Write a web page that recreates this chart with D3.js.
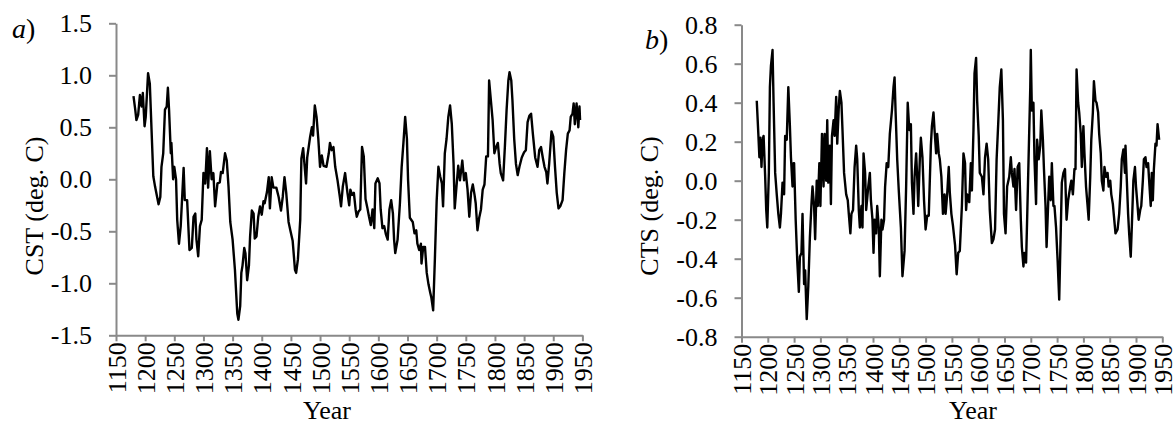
<!DOCTYPE html>
<html>
<head>
<meta charset="utf-8">
<script src="https://cdn.jsdelivr.net/npm/d3@7"></script>
<style>
body{margin:0;background:#fff;}
svg text{font-family:"Liberation Serif","Times New Roman",serif;fill:#000;}
</style>
</head>
<body>
<div id="chart"></div>
<script>
/* data */
var yearTicks=[1150,1200,1250,1300,1350,1400,1450,1500,1550,1600,1650,1700,1750,1800,1850,1900,1950];
var cstTicks=[-1.5,-1.0,-0.5,0.0,0.5,1.0,1.5];
var ctsTicks=[-0.8,-0.6,-0.4,-0.2,0.0,0.2,0.4,0.6,0.8];

var cstYears=[1180,1183,1185,1188,1191,1194,1196,1199,1201,1205,1208,1211,1214,1217,1223,1226,1228,1231,1234,1237,1239,1241,1244,1245,1248,1250,1253,1255,1258,1261,1266,1268,1272,1276,1280,1283,1286,1288,1291,1294,1297,1300,1303,1306,1308,1311,1314,1317,1320,1324,1328,1330,1333,1337,1340,1343,1346,1350,1354,1358,1360,1363,1365,1367,1370,1372,1375,1378,1380,1383,1386,1388,1391,1394,1397,1400,1403,1405,1409,1412,1414,1417,1420,1425,1429,1433,1436,1439,1442,1446,1449,1453,1457,1459,1462,1466,1468,1471,1476,1478,1483,1486,1488,1491,1494,1497,1500,1503,1506,1511,1515,1517,1520,1523,1526,1530,1534,1536,1539,1543,1547,1550,1552,1555,1558,1561,1563,1566,1569,1572,1575,1578,1581,1584,1587,1590,1593,1595,1599,1602,1604,1607,1610,1613,1616,1619,1622,1625,1627,1629,1633,1637,1640,1643,1646,1649,1651,1654,1659,1662,1665,1667,1670,1673,1674,1677,1680,1683,1686,1689,1691,1694,1697,1700,1703,1706,1709,1711,1714,1717,1720,1723,1726,1729,1731,1734,1737,1740,1744,1747,1750,1753,1756,1759,1762,1765,1767,1770,1773,1776,1779,1782,1785,1788,1790,1793,1796,1799,1802,1805,1808,1810,1814,1817,1820,1823,1825,1828,1830,1833,1836,1839,1842,1846,1850,1853,1856,1859,1862,1865,1869,1873,1876,1879,1882,1885,1888,1890,1893,1897,1900,1903,1906,1909,1912,1916,1919,1922,1925,1928,1930,1933,1935,1937,1940,1943,1945,1946];
var cstValues=[0.80,0.67,0.57,0.62,0.81,0.70,0.83,0.51,0.60,1.02,0.92,0.47,0.03,-0.07,-0.24,-0.17,0.12,0.25,0.67,0.70,0.88,0.67,0.25,0.35,0.00,0.12,0.00,-0.39,-0.62,-0.45,0.11,-0.20,-0.20,-0.68,-0.66,-0.36,-0.33,-0.58,-0.74,-0.45,-0.39,0.06,-0.04,0.30,-0.08,0.27,0.00,0.06,-0.26,-0.04,-0.03,0.07,0.06,0.25,0.18,-0.07,-0.41,-0.58,-0.87,-1.29,-1.35,-1.22,-0.90,-0.83,-0.66,-0.71,-0.97,-0.83,-0.55,-0.30,-0.33,-0.57,-0.55,-0.36,-0.26,-0.34,-0.21,-0.23,-0.12,0.02,-0.28,0.02,-0.08,-0.08,-0.17,-0.30,-0.17,0.02,-0.13,-0.41,-0.49,-0.59,-0.87,-0.90,-0.77,-0.39,0.20,0.30,-0.04,0.21,0.41,0.50,0.42,0.71,0.60,0.39,0.12,0.23,0.13,0.12,0.25,0.35,0.28,0.31,0.12,-0.01,-0.17,-0.26,-0.07,0.06,-0.13,-0.25,-0.10,-0.15,-0.13,-0.29,-0.36,-0.31,-0.29,0.31,0.22,-0.19,-0.27,-0.36,-0.44,-0.29,-0.47,-0.04,0.01,-0.04,-0.29,-0.47,-0.45,-0.53,-0.58,-0.29,-0.20,-0.33,-0.58,-0.71,-0.58,-0.23,0.12,0.35,0.60,0.39,-0.01,-0.37,-0.41,-0.52,-0.49,-0.62,-0.68,-0.62,-0.81,-0.65,-0.65,-0.90,-1.01,-1.09,-1.14,-1.26,-0.76,-0.21,0.12,0.03,-0.04,-0.26,0.25,0.39,0.60,0.71,0.53,0.15,-0.28,-0.07,0.13,-0.01,0.18,-0.01,0.06,-0.10,-0.36,-0.13,-0.05,-0.15,-0.23,-0.49,-0.37,-0.29,-0.10,-0.05,0.22,0.22,0.95,0.76,0.57,0.25,0.31,0.35,0.15,0.06,-0.01,0.31,0.67,0.95,1.03,0.95,0.76,0.39,0.15,0.04,0.12,0.21,0.26,0.28,0.55,0.61,0.63,0.44,0.21,0.12,0.28,0.31,0.21,0.12,0.07,-0.04,0.15,0.46,0.41,0.12,-0.13,-0.28,-0.26,-0.20,0.06,0.28,0.44,0.47,0.60,0.63,0.73,0.53,0.73,0.50,0.70,0.57];

var ctsYears=[1179,1182,1184,1186,1188,1190,1192,1195,1197,1199,1202,1204,1206,1209,1211,1214,1217,1220,1223,1225,1228,1231,1233,1236,1239,1242,1244,1247,1249,1250,1253,1256,1259,1261,1264,1266,1269,1271,1274,1277,1280,1283,1285,1288,1290,1293,1295,1298,1300,1303,1306,1308,1311,1313,1315,1318,1320,1322,1325,1327,1330,1332,1335,1337,1340,1342,1345,1349,1352,1354,1357,1359,1362,1365,1368,1370,1373,1375,1378,1380,1382,1385,1387,1391,1394,1396,1399,1401,1403,1406,1408,1411,1413,1416,1418,1421,1423,1426,1429,1432,1436,1439,1441,1443,1446,1449,1453,1456,1460,1463,1466,1469,1472,1474,1477,1479,1482,1484,1486,1489,1491,1494,1497,1500,1503,1506,1510,1512,1515,1517,1520,1522,1525,1527,1530,1533,1536,1538,1541,1544,1546,1549,1552,1556,1559,1562,1565,1569,1572,1575,1577,1579,1583,1586,1588,1591,1593,1596,1598,1601,1603,1607,1610,1613,1616,1619,1622,1626,1629,1632,1635,1638,1641,1644,1647,1649,1652,1655,1659,1662,1664,1667,1669,1672,1675,1678,1681,1683,1686,1688,1691,1693,1696,1699,1700,1702,1705,1707,1710,1712,1715,1718,1720,1723,1725,1728,1730,1733,1735,1738,1740,1743,1745,1748,1751,1754,1756,1759,1762,1765,1768,1771,1775,1777,1780,1783,1785,1787,1790,1792,1795,1797,1800,1802,1805,1808,1810,1813,1815,1818,1820,1823,1825,1828,1830,1833,1835,1838,1840,1843,1846,1848,1851,1853,1856,1858,1861,1865,1868,1871,1873,1876,1879,1880,1883,1885,1887,1890,1892,1895,1898,1900,1903,1905,1908,1910,1913,1915,1918,1920,1923,1925,1928,1930,1932,1934,1937,1939,1941,1944];
var ctsValues=[0.41,0.24,0.12,0.22,0.07,0.21,0.23,0.02,-0.15,-0.24,0.04,0.48,0.59,0.67,0.40,0.04,-0.07,-0.17,-0.24,-0.17,-0.01,-0.07,0.23,0.21,0.48,0.28,0.12,-0.03,0.09,0.09,-0.20,-0.41,-0.57,-0.39,-0.37,-0.17,-0.53,-0.46,-0.71,-0.54,-0.29,-0.12,-0.03,-0.13,-0.30,0.00,-0.13,0.09,-0.13,0.24,-0.03,0.24,0.00,0.31,-0.01,0.18,-0.12,0.23,0.31,0.23,0.43,0.19,0.38,0.46,0.40,0.26,0.04,-0.07,-0.10,-0.17,-0.27,-0.17,-0.15,0.07,0.18,0.11,-0.15,-0.24,-0.13,-0.24,0.14,0.04,-0.15,-0.03,0.04,-0.10,-0.20,-0.37,-0.20,-0.27,-0.13,-0.24,-0.49,-0.20,-0.25,-0.20,-0.03,0.09,0.07,0.24,0.36,0.48,0.53,0.35,0.11,-0.05,-0.24,-0.49,-0.36,-0.03,0.40,0.26,0.29,-0.01,-0.17,0.02,0.14,0.02,-0.13,0.11,0.22,0.12,-0.10,-0.25,-0.18,-0.18,0.18,0.28,0.35,0.26,0.14,0.24,0.14,0.11,0.02,-0.17,-0.07,-0.17,-0.07,0.07,-0.06,-0.17,-0.23,-0.33,-0.48,-0.37,-0.36,-0.13,0.14,0.09,-0.15,-0.07,-0.11,0.09,-0.05,0.26,0.55,0.63,0.41,0.23,0.04,0.02,-0.07,0.12,0.19,0.11,-0.15,-0.32,-0.30,-0.25,0.11,0.29,0.48,0.57,0.31,-0.17,-0.27,-0.03,0.02,0.12,0.04,-0.03,0.06,-0.15,0.07,0.09,-0.20,-0.34,-0.44,-0.37,-0.42,-0.20,0.14,0.48,0.67,0.36,0.40,0.11,-0.12,0.21,0.11,0.18,0.36,0.21,0.06,-0.13,-0.34,-0.12,0.02,-0.10,0.09,-0.13,-0.13,-0.24,-0.41,-0.61,-0.37,-0.01,0.04,0.06,-0.20,-0.10,-0.03,0.00,-0.07,0.06,0.06,0.57,0.40,0.35,0.24,0.07,0.28,0.14,-0.03,-0.13,-0.20,0.02,0.21,0.35,0.51,0.41,0.40,0.35,0.24,0.14,0.00,-0.05,0.07,0.02,0.04,-0.03,0.00,-0.07,-0.12,-0.18,-0.27,-0.25,-0.17,-0.03,0.11,0.16,0.04,0.18,-0.03,-0.17,-0.27,-0.39,-0.24,0.00,0.07,-0.03,-0.13,-0.20,-0.15,-0.13,0.00,0.11,0.12,0.07,0.09,0.00,-0.13,0.04,-0.10,0.06,0.19,0.18,0.29,0.21];

var axisColor="#898989";
var serif="'Liberation Serif','Times New Roman',serif";
var svg=d3.select("#chart").append("svg").attr("width",1174).attr("height",423);

var panels=[
	{x0:116,x1:582.4,y0:23.3,y1:335.3,years:cstYears,values:cstValues,domain:[-1.5,1.5],ticks:cstTicks,
	 title:"CST (deg. C)",titleX:43,titleY:206,letter:"a",letterX:12,letterY:38,yearX:327},
	{x0:741.5,x1:1162.3,y0:24.7,y1:336.7,years:ctsYears,values:ctsValues,domain:[-0.8,0.8],ticks:ctsTicks,
	 title:"CTS (deg. C)",titleX:658,titleY:206,letter:"b",letterX:645,letterY:49,yearX:973}
];

panels.forEach(function(p){
	var x=d3.scaleLinear().domain([1150,1950]).range([p.x0,p.x1]);
	var y=d3.scaleLinear().domain(p.domain).range([p.y1,p.y0]);

	var yAxis=svg.append("g")
		.attr("transform","translate("+p.x0+",0)")
		.call(d3.axisLeft(y).tickValues(p.ticks).tickSize(7).tickSizeOuter(0).tickPadding(17)
			.tickFormat(function(d){return d.toFixed(1);}));
	var xAxis=svg.append("g")
		.attr("transform","translate(0,"+p.y1+")")
		.call(d3.axisBottom(x).tickValues(yearTicks).tickSize(6).tickSizeOuter(0)
			.tickFormat(function(d){return ""+d;}));

	[yAxis,xAxis].forEach(function(a){
		a.attr("font-family",serif).attr("font-size",26);
		a.select(".domain").attr("stroke",axisColor).attr("stroke-width",2);
		a.selectAll(".tick line").attr("stroke",axisColor).attr("stroke-width",2);
		a.selectAll("text").attr("fill","#000").style("font-size","26px").style("font-family",serif);
	});
	xAxis.selectAll(".tick text")
		.attr("transform","rotate(-90)")
		.attr("x",-7).attr("y",0).attr("dy","0.35em")
		.style("text-anchor","end");

	var line=d3.line()
		.x(function(d,i){return x(p.years[i]);})
		.y(function(d){return y(d);});
	svg.append("path")
		.datum(p.values)
		.attr("fill","none")
		.attr("stroke","#000")
		.attr("stroke-width",2.4)
		.attr("stroke-linejoin","round")
		.attr("d",line);

	svg.append("text")
		.attr("transform","translate("+p.titleX+","+p.titleY+") rotate(-90)")
		.attr("text-anchor","middle")
		.style("font-size","26px")
		.text(p.title);

	svg.append("text")
		.attr("x",p.yearX).attr("y",419)
		.attr("text-anchor","middle")
		.style("font-size","26px")
		.text("Year");

	var lt=svg.append("text").attr("x",p.letterX).attr("y",p.letterY).style("font-size","28px");
	lt.append("tspan").style("font-style","italic").text(p.letter);
	lt.append("tspan").text(")");
});
</script>
</body>
</html>
